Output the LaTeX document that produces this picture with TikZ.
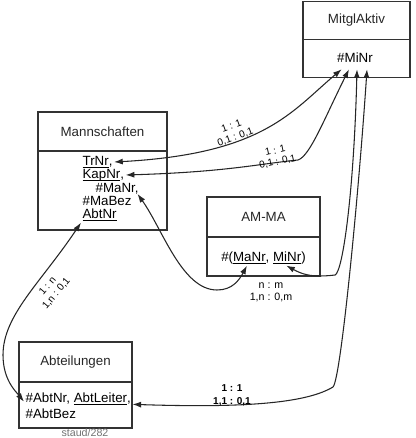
\documentclass[tikz,border=0pt]{standalone}
\usepackage{amsmath}
\usepackage{fontspec}
\setmainfont{Liberation Sans}
\usetikzlibrary{positioning,arrows.meta}
\newcommand{\key}[1]{\underline{\smash[b]{#1}}}

\begin{document}
\begin{tikzpicture}[
  x=0.75pt, y=-0.75pt,
  node distance=0pt,
  head/.style={draw=black!80, line width=0.9pt, inner sep=0pt, outer sep=0pt,
               font=\fontsize{10}{12}\selectfont, text=black!85},
  body/.style={draw=black!80, line width=0.9pt, inner sep=0pt, outer sep=0pt},
  attr/.style={inner sep=1pt, anchor=west, text height=7pt, text depth=2pt,
               font=\fontsize{10}{12}\selectfont},
  card/.style={inner sep=0.5pt, align=center, font=\fontsize{7.5}{8.5}\selectfont},
  rel/.style={{Latex[length=6.5pt,width=4.5pt]}-{Latex[length=6.5pt,width=4.5pt]},
              line width=0.8pt, black!85}
]
\useasboundingbox (0,0) rectangle (415,438);
% entity boxes
\node[head, minimum width=80.25pt, minimum height=28.5pt] (mitgl) at (356.5,20.5) {MitglAktiv};
\node[body, minimum width=80.25pt, minimum height=28.5pt, below=of mitgl] (mitglbody) {};
\node[head, minimum width=96.75pt, minimum height=29.25pt] (mannsch) at (102.5,131.5) {Mannschaften};
\node[body, minimum width=96.75pt, minimum height=59.25pt, below=of mannsch] (mannschbody) {};
\node[head, minimum width=84.75pt, minimum height=30pt] (amma) at (263.5,217) {AM-MA};
\node[body, minimum width=84.75pt, minimum height=29.25pt, below=of amma] (ammabody) {};
\node[head, minimum width=84.75pt, minimum height=30pt] (abteil) at (75.5,362) {Abteilungen};
\node[body, minimum width=84.75pt, minimum height=34.5pt, below=of abteil] (abteilbody) {};

% attributes
\node[attr, anchor=center] (minr) at (355,59) {\#MiNr};
\node[attr] (trnr)  at (81,162) {\key{TrNr},};
\node[attr] (kapnr) at (81,175) {\key{KapNr},};
\node[attr] (manr)  at (94,189) {\#MaNr,};
\node[attr] (mabez) at (81,202) {\#MaBez};
\node[attr] (abtnr) at (81,215) {\key{AbtNr}};
\node[attr, anchor=center] (amattr) at (263.5,258) {\#(\key{MaNr}, \key{MiNr})};
\node[attr] (abtkey) at (24,399) {\#AbtNr, \key{AbtLeiter},};
\node[attr] (abtbez) at (24,415) {\#AbtBez};

% relationships
\draw[rel] (trnr.east) .. controls +(150,-8) and +(-50,42) .. ([xshift=-10pt,yshift=-2pt]minr.south);
\draw[rel] (kapnr.east) .. controls +(100,-3) and +(-40,4) .. (298,160)
  .. controls +(12,-4) and +(-25,50) .. ([xshift=-4.5pt,yshift=-2pt]minr.south);
\draw[rel] ([xshift=17pt]amattr.south) .. controls +(15,8) and +(-25,3) .. (335,275)
  .. controls +(8,-3) and +(-3,120) .. ([xshift=1.5pt,yshift=-2pt]minr.south);
\draw[rel] ([xshift=-2pt,yshift=2pt]manr.south east) .. controls +(25,35) and +(-35,0) .. (217,290)
  .. controls +(15,0) and +(-8,15) .. ([xshift=-12.4pt]amattr.south);
\draw[rel] (abtnr.south west) .. controls +(-40,60) and +(0,-40) .. (3,355)
  .. controls +(0,25) and +(-8,-10) .. ([yshift=-2pt]abtkey.west);
\draw[rel] ([yshift=-4pt]abtkey.east) .. controls +(120,4) and +(-25,15) .. (333,387)
  .. controls +(8,-8) and +(-8,120) .. ([xshift=9pt,yshift=-2pt]minr.south);

% cardinalities
\node[card, rotate=20] (lbltr) at (233.5,132) {1 : 1\\0,1 : 0,1};
\node[card, rotate=12] (lblkap) at (276.5,156.5) {1 : 1\\0,1 : 0,1};
\node[card, rotate=50] (lblabt) at (52,290) {1 : n\\1,n : 0,1};
\node[card, font=\fontsize{8}{9}\selectfont] (lblam) at (271,292) {n : m\\1,n : 0,m};
\node[card, font=\bfseries\fontsize{7.5}{9.5}\selectfont] (lblleit) at (232,395) {1 : 1\\1,1 : 0,1};

\node[font=\fontsize{8}{9}\selectfont, text=black!55] (src) at (85,433) {staud/282};
\end{tikzpicture}
\end{document}
